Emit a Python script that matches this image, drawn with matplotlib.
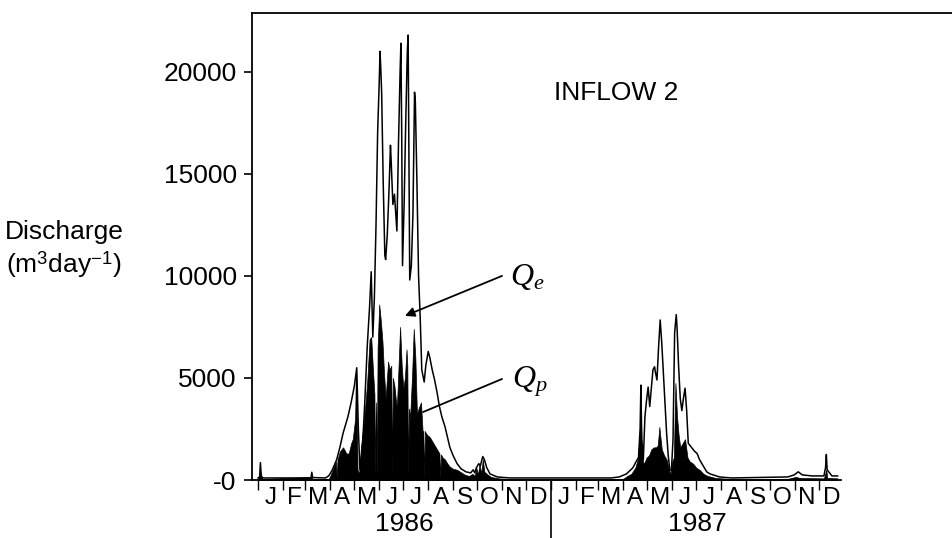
import matplotlib
matplotlib.use("Agg")
import matplotlib.pyplot as plt
import numpy as np

# ---------------- data ----------------
# day index counted from 1 Jan 1986; discharge in m3/day
qe_days = [0, 2, 3, 4, 6, 66, 67, 68, 84, 88, 92, 98, 102, 106, 112, 116, 120, 123, 125, 127,
           130, 133, 136, 139, 141, 143, 145, 147, 149, 151, 152, 153, 154, 156, 158, 159, 161,
           163, 165, 166, 168, 170, 173, 175, 177, 178, 179, 180, 182, 184, 186, 187, 188, 189,
           191, 193, 195, 196, 198, 200, 202, 204, 207, 209, 212, 214, 217, 220, 223, 226, 229,
           233, 236, 239, 243, 248, 253, 259, 265, 268, 270, 272, 275, 277, 280, 282, 285, 289,
           298, 314, 440, 450, 456, 459, 463, 467, 471, 474, 476, 477, 478, 480, 482, 484, 486,
           488, 490, 492, 494, 495, 497, 499, 501, 503, 506, 509, 511, 513, 515, 517, 519, 521,
           522, 524, 526, 528, 530, 532, 534, 536, 540, 544, 547, 550, 553, 556, 559, 563, 567,
           575, 590, 660, 668, 673, 678, 690, 705, 707, 708, 709, 715, 722]
qe_vals = [100, 150, 850, 200, 100, 100, 380, 120, 100, 200, 450, 1000, 1600, 2300, 3100, 3800,
           4600, 5500, 2500, 500, 1500, 3800, 6500, 8500, 10200, 7000, 9000, 12500, 17000, 19500,
           21000, 20100, 19000, 14500, 11000, 10800, 12000, 14000, 16400, 15500, 13500, 14000,
           12200, 16500, 20000, 21400, 17000, 10500, 13500, 17500, 21000, 21800, 16000, 9800,
           10500, 13000, 19000, 18500, 14500, 10000, 8000, 5400, 4800, 5600, 6300, 6000, 5400,
           4900, 4300, 3600, 3100, 2600, 2100, 1600, 1200, 800, 550, 400, 350, 500, 350, 600,
           800, 700, 1150, 1000, 600, 300, 150, 100, 100, 150, 250, 300, 450, 600, 900, 1100,
           2500, 4650, 2000, 1000, 3100, 3900, 4550, 3600, 4500, 5400, 5550, 5300, 4900, 6500,
           7840, 6700, 4500, 2300, 1200, 500, 450, 2000, 7200, 8100, 7500, 5550, 4000, 3400,
           4000, 4500, 3400, 1800, 1600, 1400, 1300, 1000, 800, 600, 400, 300, 250, 150, 100,
           150, 250, 400, 250, 200, 200, 600, 1250, 500, 200, 200]

qp_days = [0, 3, 5, 67, 68, 88, 90, 95, 97, 98, 99, 102, 106, 110, 113, 116, 118, 121, 122, 123,
           124, 126, 128, 131, 134, 136, 139, 141, 143, 145, 146, 147, 148, 149, 151, 153, 155,
           157, 159, 160, 162, 164, 166, 167, 168, 170, 172, 173, 174, 176, 177, 179, 181, 183,
           185, 186, 187, 188, 189, 190, 192, 194, 196, 198, 200, 203, 205, 206, 207, 208, 209,
           211, 214, 217, 220, 223, 226, 227, 228, 230, 233, 236, 239, 243, 248, 252, 258, 263,
           267, 270, 272, 274, 276, 278, 280, 282, 285, 290, 300, 314, 440, 455, 460, 465, 470,
           473, 475, 477, 478, 480, 482, 484, 487, 490, 493, 496, 498, 500, 501, 503, 506, 509,
           512, 514, 516, 518, 520, 522, 524, 526, 529, 532, 535, 538, 542, 546, 550, 555, 560,
           570, 590, 660, 670, 675, 705, 708, 709, 722]
qp_vals = [50, 400, 50, 150, 50, 50, 200, 700, 900, 80, 1000, 1400, 1600, 1300, 1300, 1800, 2000,
           3000, 5500, 3500, 500, 300, 1500, 2600, 3800, 4800, 6900, 7000, 5500, 4200, 300, 3800,
           100, 6500, 8600, 7800, 6800, 5200, 4000, 4600, 5800, 5400, 5600, 100, 5000, 4600, 3800,
           3600, 4500, 6500, 7500, 5600, 4500, 5000, 6400, 5600, 100, 3500, 3000, 3500, 5200, 7400,
           6000, 3200, 3500, 3800, 2400, 2400, 100, 2400, 2300, 2200, 2100, 1900, 1700, 1500, 1300,
           100, 1250, 1100, 1000, 800, 650, 550, 500, 400, 250, 200, 300, 200, 600, 250, 800, 300,
           1000, 400, 300, 150, 80, 50, 50, 60, 200, 300, 600, 1000, 2000, 3100, 1500, 800, 900,
           1100, 1200, 1500, 1600, 1600, 1700, 2600, 2200, 1500, 1200, 1000, 500, 300, 900, 1100,
           4750, 3100, 2200, 1600, 1800, 2000, 1100, 900, 800, 600, 500, 300, 200, 100, 50, 60,
           150, 100, 80, 500, 100, 80]

month_starts = [0, 31, 59, 90, 120, 151, 181, 212, 243, 273, 304, 334, 365,
                396, 424, 455, 485, 516, 546, 577, 608, 638, 669, 699]
month_labels = ['J', 'F', 'M', 'A', 'M', 'J', 'J', 'A', 'S', 'O', 'N', 'D'] * 2
year_labels = ['1986', '1987']
year_centers = [182.5, 547.5]
y_ticks = [0, 5000, 10000, 15000, 20000]
y_ticklabels = ['-0', '5000', '10000', '15000', '20000']

# ---------------- style ----------------
plt.rcParams['font.family'] = ['Liberation Sans', 'DejaVu Sans']
plt.rcParams['mathtext.fontset'] = 'custom'
plt.rcParams['mathtext.rm'] = 'Liberation Sans'
plt.rcParams['mathtext.it'] = 'Liberation Serif:italic'
plt.rcParams['mathtext.bf'] = 'Liberation Sans:bold'

W, H = 953, 538
fig = plt.figure(figsize=(W / 100, H / 100), dpi=100)
ax = fig.add_axes([252 / W, 58 / H, 1 - 252 / W, 467 / H])

ax.fill_between(qp_days, qp_vals, 0, color='black', lw=0.5)
ax.plot(qe_days, qe_vals, color='black', lw=1.1)

ax.set_xlim(-7.5, 865.8)
ax.set_ylim(0, 22880)

for s in ['left', 'top', 'bottom']:
    ax.spines[s].set_linewidth(1.3)
ax.spines['right'].set_visible(False)
ax.spines['bottom'].set_bounds(-7.5, 726)

ax.set_yticks(y_ticks)
ax.set_yticklabels(y_ticklabels)
ax.tick_params(axis='y', length=6, width=1.2, pad=5, labelsize=19)

ax.set_xticks(month_starts)
ax.set_xticklabels([])
ends = month_starts[1:] + [730]
centers = [(a + b) / 2 for a, b in zip(month_starts, ends)]
ax.set_xticks(centers, minor=True)
ax.set_xticklabels(month_labels, minor=True)
ax.tick_params(axis='x', which='major', length=7, width=1.0, direction='out')
ax.tick_params(axis='x', which='minor', length=0, pad=5, labelsize=17.5)

xt = ax.get_xaxis_transform()
ax.plot([365, 365], [0, -0.13], transform=xt, clip_on=False, color='black', lw=1.2)
for c, lab in zip(year_centers, year_labels):
    ax.text(c, -0.094, lab, transform=xt, ha='center', va='center', fontsize=19)

ax.text(446, 18960, 'INFLOW 2', ha='center', va='center', fontsize=19)

ax.annotate('', xy=(183, 8040), xytext=(304, 10000),
            arrowprops=dict(arrowstyle='-|>', color='black', lw=1.3,
                            mutation_scale=14, shrinkA=0, shrinkB=0))
ax.annotate('', xy=(205.6, 3330), xytext=(304, 4950),
            arrowprops=dict(arrowstyle='-', color='black', lw=1.3,
                            shrinkA=0, shrinkB=0))
ax.text(336, 9950, r'$Q_e$', ha='center', va='center', fontsize=23)
ax.text(339, 4800, r'$Q_p$', ha='center', va='center', fontsize=23)

fig.text(64 / W, 1 - 232 / H, 'Discharge', ha='center', va='center', fontsize=19)
fig.text(64 / W, 1 - 265 / H, r'(m$^3$day$^{-1}$)', ha='center', va='center', fontsize=19)

fig.savefig('out.png', dpi=100)
